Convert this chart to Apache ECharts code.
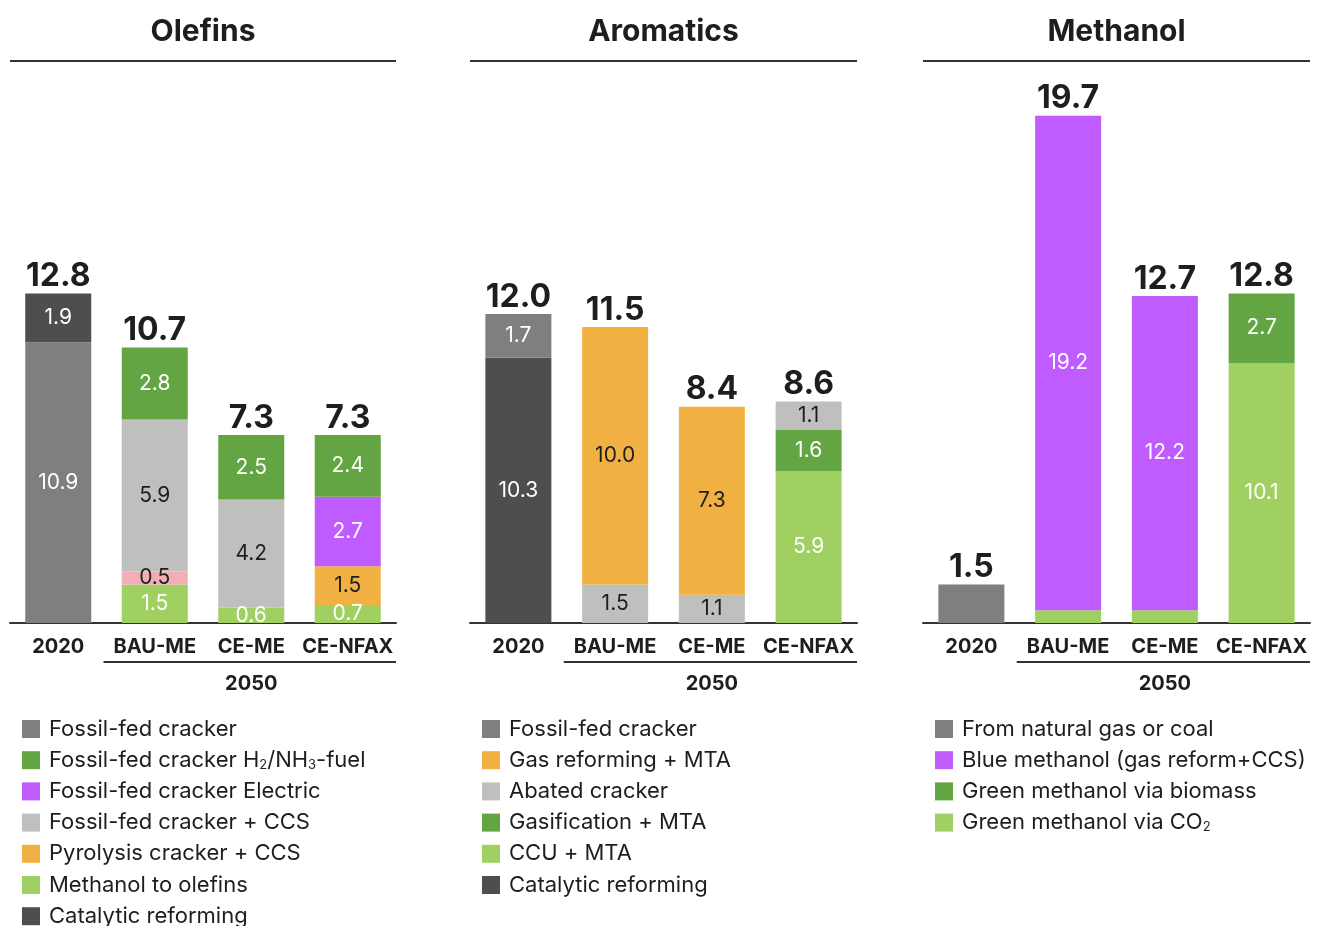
<!DOCTYPE html>
<html>
<head>
<meta charset="utf-8">
<script src="https://cdn.jsdelivr.net/npm/echarts@6/dist/echarts.min.js"></script>
<style>
html,body{margin:0;padding:0;background:#fff;}
#chart{width:1327px;height:926px;}
</style>
</head>
<body>
<div id="chart"></div>
<script>
// ---------- DATA ----------
const categories = ['2020', 'BAU-ME', 'CE-ME', 'CE-NFAX'];
const panelTitles = ['Olefins', 'Aromatics', 'Methanol'];
const groupLabel = '2050';

// Olefins (bottom to top)
const olefinsMethanolToOlefins = [0, 1.5, 0.6, 0.7];
const olefinsOther = [0, 0.5, 0, 0];
const olefinsPyrolysisCCS = [0, 0, 0, 1.5];
const olefinsCrackerCCS = [0, 5.9, 4.2, 0];
const olefinsCrackerElectric = [0, 0, 0, 2.7];
const olefinsCrackerH2 = [0, 2.8, 2.5, 2.4];
const olefinsFossilCracker = [10.9, 0, 0, 0];
const olefinsCatalytic = [1.9, 0, 0, 0];

// Aromatics (bottom to top)
const aromaticsCatalytic = [10.3, 0, 0, 0];
const aromaticsCCU = [0, 0, 0, 5.9];
const aromaticsGasification = [0, 0, 0, 1.6];
const aromaticsAbated = [0, 1.5, 1.1, 1.1];
const aromaticsGasReforming = [0, 10.0, 7.3, 0];
const aromaticsFossilCracker = [1.7, 0, 0, 0];

// Methanol (bottom to top)
const methanolGreenCO2 = [0, 0.5, 0.5, 10.1];
const methanolBlue = [0, 19.2, 12.2, 0];
const methanolGreenBiomass = [0, 0, 0, 2.7];
const methanolFossil = [1.5, 0, 0, 0];

// Legend order
const olefinsLegend = ['Fossil-fed cracker', 'Fossil-fed cracker H2/NH3-fuel', 'Fossil-fed cracker Electric', 'Fossil-fed cracker + CCS', 'Pyrolysis cracker + CCS', 'Methanol to olefins', 'Catalytic reforming'];
const aromaticsLegend = ['Fossil-fed cracker', 'Gas reforming + MTA', 'Abated cracker', 'Gasification + MTA', 'CCU + MTA', 'Catalytic reforming'];
const methanolLegend = ['From natural gas or coal', 'Blue methanol (gas reform+CCS)', 'Green methanol via biomass', 'Green methanol via CO2'];

// ---------- STYLE ----------
const C = {
  darkGrey: '#4D4F4E', midGrey: '#7F7F7F', green: '#62A542', lightGreen: '#A0CF62',
  purple: '#C05CFF', lightGrey: '#BFBFBE', orange: '#F0B042', pink: '#F2AEB4'
};
const FONT = 'Inter, "Liberation Sans", Arial, sans-serif';
const TXT = '#1E1E1E';
const panels = [{left: 10, width: 386}, {left: 470, width: 387}, {left: 923, width: 387}];
const GRID_TOP = 108, GRID_BOTTOM = 303, YMAX = 20;

const panelSeries = [
  [
    {name: 'Methanol to olefins', data: olefinsMethanolToOlefins, color: C.lightGreen, lc: '#fff'},
    {name: 'Other', data: olefinsOther, color: C.pink, lc: TXT},
    {name: 'Pyrolysis cracker + CCS', data: olefinsPyrolysisCCS, color: C.orange, lc: TXT},
    {name: 'Fossil-fed cracker + CCS', data: olefinsCrackerCCS, color: C.lightGrey, lc: TXT},
    {name: 'Fossil-fed cracker Electric', data: olefinsCrackerElectric, color: C.purple, lc: '#fff'},
    {name: 'Fossil-fed cracker H2/NH3-fuel', data: olefinsCrackerH2, color: C.green, lc: '#fff'},
    {name: 'Fossil-fed cracker', data: olefinsFossilCracker, color: C.midGrey, lc: '#fff'},
    {name: 'Catalytic reforming', data: olefinsCatalytic, color: C.darkGrey, lc: '#fff'}
  ],
  [
    {name: 'Catalytic reforming', data: aromaticsCatalytic, color: C.darkGrey, lc: '#fff'},
    {name: 'CCU + MTA', data: aromaticsCCU, color: C.lightGreen, lc: '#fff'},
    {name: 'Gasification + MTA', data: aromaticsGasification, color: C.green, lc: '#fff'},
    {name: 'Abated cracker', data: aromaticsAbated, color: C.lightGrey, lc: TXT},
    {name: 'Gas reforming + MTA', data: aromaticsGasReforming, color: C.orange, lc: TXT},
    {name: 'Fossil-fed cracker', data: aromaticsFossilCracker, color: C.midGrey, lc: '#fff'}
  ],
  [
    {name: 'Green methanol via CO2', data: methanolGreenCO2, color: C.lightGreen, lc: '#fff', minLabel: 1},
    {name: 'Blue methanol (gas reform+CCS)', data: methanolBlue, color: C.purple, lc: '#fff'},
    {name: 'Green methanol via biomass', data: methanolGreenBiomass, color: C.green, lc: '#fff'},
    {name: 'From natural gas or coal', data: methanolFossil, color: C.midGrey, lc: '#fff', minLabel: 99}
  ]
];
const legends = [olefinsLegend, aromaticsLegend, methanolLegend];

function legendFmt(name) {
  if (name === 'Fossil-fed cracker H2/NH3-fuel') return '{n|Fossil-fed cracker H}{s|2}{n|/NH}{s|3}{n|-fuel}';
  if (name === 'Green methanol via CO2') return '{n|Green methanol via CO}{s|2}';
  return '{n|' + name + '}';
}

const grid = [], xAxis = [], yAxis = [], series = [], title = [], legend = [], graphic = [];
panels.forEach((p, i) => {
  grid.push({left: p.left, width: p.width, top: GRID_TOP, bottom: GRID_BOTTOM, containLabel: false});
  xAxis.push({
    type: 'category', gridIndex: i, data: categories,
    axisLine: {show: true, lineStyle: {color: '#333', width: 2}},
    axisTick: {show: false},
    axisLabel: {fontFamily: FONT, fontSize: 20, fontWeight: 'bold', color: TXT, margin: 14, interval: 0}
  });
  yAxis.push({type: 'value', gridIndex: i, min: 0, max: YMAX, show: false, splitLine: {show: false}});
  title.push({
    text: panelTitles[i], left: p.left + p.width / 2, top: 17, textAlign: 'center', padding: 0,
    textStyle: {fontFamily: FONT, fontSize: 30, fontWeight: 'bold', color: TXT}
  });
  const totals = categories.map((c, k) => panelSeries[i].reduce((s, ser) => s + ser.data[k], 0));
  panelSeries[i].forEach(s => {
    series.push({
      type: 'bar', name: s.name, xAxisIndex: i, yAxisIndex: i, stack: 'p' + i,
      data: s.data, barWidth: 66, barGap: '-100%',
      itemStyle: {color: s.color},
      label: {
        show: true, position: 'inside', color: s.lc, fontFamily: FONT, fontSize: 21,
        formatter: prm => (prm.value && prm.value >= (s.minLabel || 0)) ? prm.value.toFixed(1) : ''
      },
      emphasis: {disabled: true}, silent: true
    });
  });
  series.push({
    type: 'bar', name: 'Total ' + i, xAxisIndex: i, yAxisIndex: i,
    data: totals, barWidth: 66, barGap: '-100%', z: 1,
    itemStyle: {color: 'rgba(0,0,0,0)'},
    label: {
      show: true, position: 'top', distance: 1, color: TXT, fontFamily: FONT,
      fontSize: 32, fontWeight: 'bold', formatter: prm => prm.value.toFixed(1)
    },
    emphasis: {disabled: true}, silent: true
  });
  legend.push({
    data: legends[i], orient: 'vertical', left: p.left + 12, top: 718, height: 260, padding: 0,
    icon: 'rect', itemWidth: 18, itemHeight: 18, itemGap: 9.2,
    selectedMode: false, formatter: legendFmt,
    textStyle: {
      fontFamily: FONT, fontSize: 22, color: TXT, padding: [0, 0, 0, 4],
      rich: {
        n: {fontFamily: FONT, fontSize: 22, color: TXT, lineHeight: 22},
        s: {fontFamily: FONT, fontSize: 13, color: TXT, lineHeight: 13, padding: [9, 0, 0, 0], verticalAlign: 'bottom'}
      }
    }
  });
  // decorations: title underline, 2050 bracket and label
  graphic.push({type: 'line', shape: {x1: p.left, y1: 61, x2: p.left + p.width, y2: 61}, style: {stroke: '#333', lineWidth: 2}, silent: true});
  graphic.push({type: 'line', shape: {x1: p.left + p.width / 4 - 3, y1: 662, x2: p.left + p.width, y2: 662}, style: {stroke: '#333', lineWidth: 2}, silent: true});
  graphic.push({type: 'text', x: p.left + p.width * 5 / 8, y: 684, style: {text: groupLabel, fill: TXT, font: 'bold 20px ' + FONT, textAlign: 'center', textVerticalAlign: 'middle'}, silent: true});
});

const chart = echarts.init(document.getElementById('chart'), null, {renderer: 'canvas'});
chart.setOption({
  animation: false, backgroundColor: '#fff',
  title, grid, xAxis, yAxis, series, legend, graphic
});
</script>
</body>
</html>
